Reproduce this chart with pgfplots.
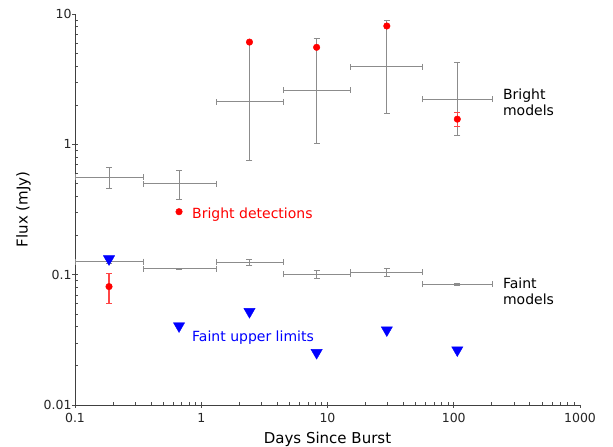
\documentclass[border=0pt]{standalone}
\usepackage{pgfplots}
\pgfplotsset{compat=1.18}
\usepackage{fontspec}
\setmainfont{DejaVu Sans}
\definecolor{mgray}{RGB}{140,140,140}
\definecolor{lred}{RGB}{255,70,70}
\begin{document}
\begin{tikzpicture}
\begin{axis}[
  name=ax,
  scale only axis,
  width=505pt, height=391pt,
  xmode=log, ymode=log,
  xmin=0.1, xmax=1000, ymin=0.01, ymax=10,
  axis lines=left,
  axis line style={-, line width=0.8pt, black!75},
  xtick={0.1,1,10,100,1000},
  xticklabels={0.1,1,10,100,1000},
  ytick={0.01,0.1,1,10},
  yticklabels={0.01,0.1,1,10},
  /pgf/number format/assume math mode=true,
  tick align=inside,
  major tick length=-3.5pt,
  minor tick length=3pt,
  tick style={black!70, line width=0.6pt},
  ticklabel style={font=\fontsize{12.5}{14}\selectfont, text=black!85},
  xticklabel style={yshift=-5pt},
  xlabel={Days Since Burst},
  ylabel={Flux (mJy)},
  label style={font=\fontsize{15}{17}\selectfont},
  xlabel style={yshift=-2pt},
  ylabel style={yshift=6pt},
  clip=false,
]
% Bright models
\addplot[mgray, line width=0.9pt, mark=none, draw=none,
  error bars/.cd, x dir=both, x explicit, y dir=both, y explicit,
  error bar style={mgray, line width=0.9pt}, error mark options={rotate=90, mgray, mark size=3pt, line width=0.8pt}]
coordinates {
 (0.186,0.561) += (0.160,0.106) -= (0.086,0.099)
 (0.667,0.497) += (0.643,0.138) -= (0.321,0.116)
 (2.41,2.12) += (2.06,3.98) -= (1.10,1.362)
 (8.2,2.61) += (6.9,3.89) -= (3.73,1.59)
 (29.5,3.95) += (26.9,4.95) -= (14.4,2.22)
 (106.7,2.21) += (96.3,2.03) -= (50.3,1.04)
};
% Faint models
\addplot[mgray, line width=0.9pt, mark=none, draw=none,
  error bars/.cd, x dir=both, x explicit, y dir=both, y explicit,
  error bar style={mgray, line width=0.9pt}, error mark options={rotate=90, mgray, mark size=3pt, line width=0.8pt}]
coordinates {
 (0.186,0.126) += (0.160,0.003) -= (0.086,0.003)
 (0.667,0.111) += (0.643,0.001) -= (0.321,0.001)
 (2.41,0.1245) += (2.06,0.0055) -= (1.10,0.0065)
 (8.2,0.1007) += (6.9,0.0063) -= (3.73,0.0077)
 (29.5,0.104) += (26.9,0.007) -= (14.4,0.007)
 (106.7,0.0843) += (96.3,0.0015) -= (50.3,0.0015)
};
% Bright detections
\addplot[only marks, mark=*, mark size=3.3pt, mark options={fill=red, draw=red},
  error bars/.cd, y dir=both, y explicit,
  error bar style={draw=lred, line width=1.1pt}, error mark options={rotate=90, draw=lred, mark size=3pt, line width=1pt}]
coordinates {
 (0.186,0.081) += (0,0.021) -= (0,0.021)
 (0.667,0.304) += (0,0) -= (0,0)
 (2.41,6.09) += (0,0) -= (0,0)
 (8.2,5.55) += (0,0) -= (0,0)
 (29.5,8.09) += (0,0) -= (0,0)
 (106.7,1.56) += (0,0.21) -= (0,0.20)
};
% Faint upper limits
\addplot[only marks, mark=triangle*, mark size=6.5pt, mark options={rotate=180, fill=blue, draw=blue}]
coordinates {
 (0.186,0.132) (0.667,0.0404) (2.41,0.052) (8.2,0.0252) (29.5,0.0376) (106.7,0.0264)
};
\node[anchor=west, text=red, font=\fontsize{14}{16}\selectfont, inner sep=0pt] at (axis cs:0.845,0.287) {Bright detections};
\node[anchor=west, text=blue, font=\fontsize{14}{16}\selectfont, inner sep=0pt] at (axis cs:0.845,0.0327) {Faint upper limits};
\node[anchor=west, align=left, font=\fontsize{14}{16}\selectfont, inner sep=0pt] at (axis cs:245,2.11) {Bright\\models};
\node[anchor=west, align=left, font=\fontsize{14}{16}\selectfont, inner sep=0pt] at (axis cs:245,0.075) {Faint\\models};
\end{axis}
\pgfresetboundingbox
\path[use as bounding box] ([xshift=-75pt,yshift=-42pt]ax.south west) rectangle ([xshift=33pt,yshift=14pt]ax.north east);
\end{tikzpicture}
\end{document}
